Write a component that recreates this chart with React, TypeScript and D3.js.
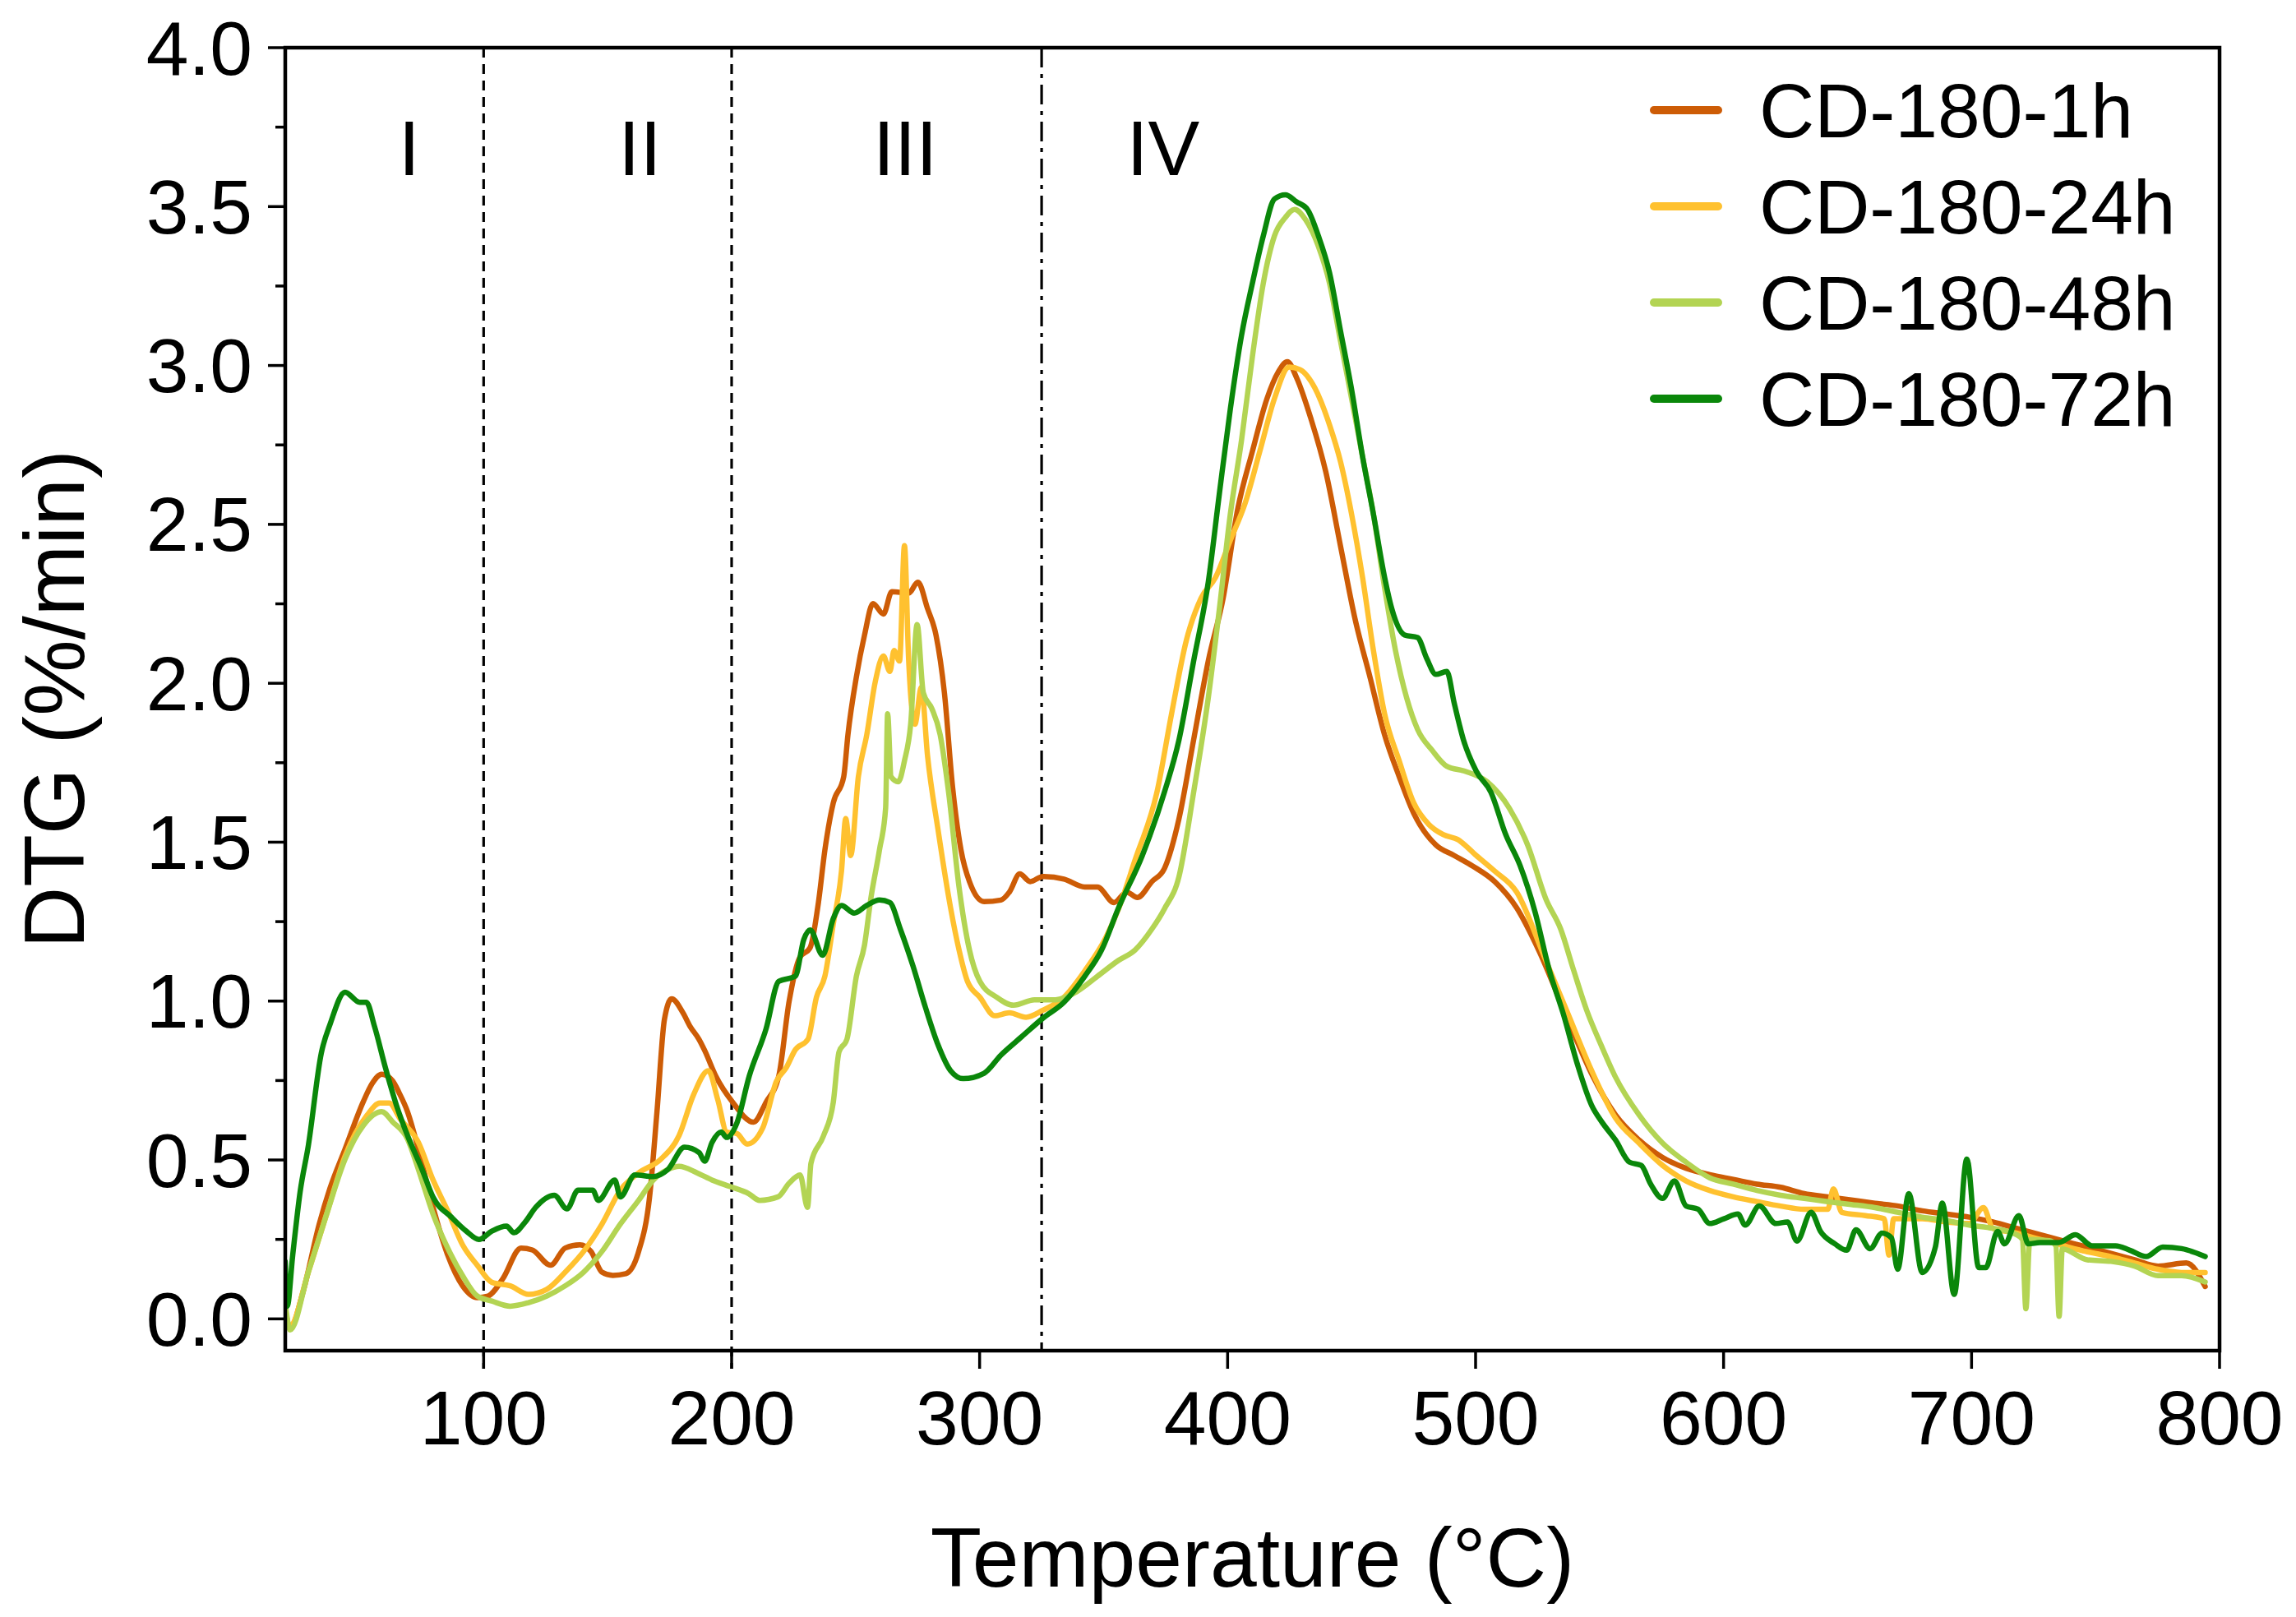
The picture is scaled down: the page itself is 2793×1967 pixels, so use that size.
import * as d3 from "d3";

// DTG curves, [temperature °C, DTG %/min]
const cd1h: [number, number][] = [
  [20, 0.03], [22, -0.03], [27, 0.08], [33.7, 0.298], [38, 0.41], [44.1, 0.534], [51.5, 0.684], [55, 0.74],
  [58.9, 0.77], [63.3, 0.749], [66, 0.71], [69.3, 0.652], [73.7, 0.534], [79.6, 0.351], [85.5, 0.201],
  [91.5, 0.104], [97.4, 0.067], [101.8, 0.072], [107.7, 0.126], [115.1, 0.223], [119.6, 0.217], [127, 0.169],
  [132.9, 0.223], [138.8, 0.233], [143.3, 0.212], [147.7, 0.147], [152.1, 0.137], [157.3, 0.142], [162.5, 0.212],
  [166.9, 0.383], [169.9, 0.652], [172.9, 0.942], [175.8, 1.007], [180.3, 0.964], [183.2, 0.921], [186.8, 0.88],
  [189.1, 0.845], [193.6, 0.764], [200.4, 0.682], [208.8, 0.619], [213.9, 0.682], [219, 0.764], [223.2, 1.0],
  [227.4, 1.136], [231.7, 1.169], [235, 1.31], [237.6, 1.475], [241, 1.624], [245.2, 1.706], [246.9, 1.838],
  [250.3, 2.02], [253.6, 2.152], [257, 2.251], [261.2, 2.218], [264.6, 2.288], [271.4, 2.284], [275.1, 2.318],
  [279, 2.235], [282.4, 2.152], [285.8, 1.97], [289.1, 1.673], [292.5, 1.475], [295.9, 1.376], [301.8, 1.313],
  [308.6, 1.318], [312, 1.343], [316.2, 1.4], [320.4, 1.376], [325.5, 1.392], [334, 1.384], [342.4, 1.359],
  [347.5, 1.359], [354.2, 1.31], [359.3, 1.343], [363.6, 1.326], [369.5, 1.376], [374.5, 1.417], [380.4, 1.574],
  [386.3, 1.822], [392.2, 2.07], [398.2, 2.268], [404.1, 2.549], [410, 2.73], [415.9, 2.896], [420.4, 2.979],
  [424.1, 3.012], [427.8, 2.962], [433.7, 2.83], [439.6, 2.665], [445.5, 2.433], [451.4, 2.202], [457.4, 2.02],
  [463.3, 1.838], [469.2, 1.706], [475.1, 1.59], [484, 1.491], [491.4, 1.458], [498.8, 1.425], [507.7, 1.376],
  [516.6, 1.293], [525.4, 1.161], [537.3, 0.94], [546.8, 0.771], [556.4, 0.642], [565.9, 0.563], [575.4, 0.508],
  [584.9, 0.474], [594.4, 0.454], [603.9, 0.439], [613.5, 0.424], [623, 0.414], [632.5, 0.394], [642, 0.384],
  [651.5, 0.374], [661, 0.364], [670.5, 0.355], [680.1, 0.34], [689.6, 0.33], [699.1, 0.32], [708.6, 0.305],
  [718.1, 0.285], [727.6, 0.265], [737.1, 0.245], [746.7, 0.226], [756.2, 0.206], [765.7, 0.186], [775.2, 0.166],
  [786.6, 0.176], [794.2, 0.102],
];

const cd24h: [number, number][] = [
  [20, 0.0], [22, -0.02], [29.3, 0.147], [36.7, 0.33], [44.1, 0.512], [53, 0.641], [58.2, 0.679], [61.9, 0.679],
  [66.3, 0.63], [73.7, 0.555], [79.6, 0.437], [85.5, 0.34], [91.5, 0.233], [97.4, 0.169], [103.3, 0.115],
  [110.7, 0.104], [118.1, 0.077], [125.5, 0.093], [132.9, 0.147], [140.3, 0.212], [147.7, 0.298], [155.1, 0.405],
  [162.5, 0.459], [171.4, 0.502], [178.8, 0.577], [184.7, 0.706], [190.6, 0.781], [194.4, 0.69], [198, 0.588],
  [202.1, 0.583], [206.3, 0.55], [212.5, 0.6], [218.1, 0.748], [222, 0.79], [225.7, 0.847], [230.8, 0.88],
  [234.2, 1.012], [237.6, 1.078], [241, 1.243], [244.3, 1.409], [246, 1.574], [248, 1.458], [251.1, 1.706],
  [254.5, 1.838], [257.9, 2.004], [261.2, 2.086], [263.8, 2.037], [265.5, 2.103], [267.7, 2.07], [269.7, 2.433],
  [271.4, 2.07], [273.9, 1.871], [276.5, 1.987], [279, 1.772], [283.2, 1.541], [288.3, 1.293], [291.7, 1.161],
  [295.1, 1.062], [300.1, 1.012], [306.1, 0.954], [312, 0.963], [318.7, 0.949], [325.5, 0.971], [334, 1.012],
  [342.4, 1.095], [350.9, 1.2], [356, 1.29], [362.6, 1.442], [371.5, 1.657], [377.4, 1.904], [383.4, 2.136],
  [389.3, 2.268], [395.2, 2.334], [401.1, 2.45], [407, 2.565], [413, 2.73], [418.9, 2.896], [424.8, 2.995],
  [429.2, 2.987], [435.2, 2.929], [441.1, 2.813], [445.5, 2.698], [450, 2.532], [454.4, 2.334], [458.8, 2.103],
  [463.3, 1.904], [469.2, 1.756], [475.1, 1.623], [481, 1.557], [486.9, 1.524], [492.9, 1.508], [500.3, 1.458],
  [507.7, 1.409], [516.6, 1.343], [527.8, 1.138], [537.3, 0.959], [546.8, 0.781], [556.4, 0.632], [565.9, 0.553],
  [575.4, 0.483], [584.9, 0.434], [594.4, 0.404], [603.9, 0.384], [613.5, 0.369], [623, 0.355], [632.5, 0.345],
  [642, 0.345], [644.3, 0.409], [647.7, 0.335], [657.2, 0.325], [664.8, 0.315], [666.7, 0.201], [668.6, 0.315],
  [680.1, 0.315], [689.6, 0.305], [699.1, 0.3], [704.8, 0.35], [708.6, 0.285], [718.1, 0.27], [727.6, 0.25],
  [737.1, 0.23], [746.7, 0.211], [756.2, 0.196], [765.7, 0.176], [775.2, 0.156], [784.7, 0.146], [794.2, 0.146],
];

const cd48h: [number, number][] = [
  [20, 0.05], [22, -0.035], [29.3, 0.147], [36.7, 0.33], [44.1, 0.502], [51.5, 0.609], [58.9, 0.652],
  [63.3, 0.62], [69.3, 0.566], [73.7, 0.47], [79.6, 0.33], [85.5, 0.223], [91.5, 0.136], [97.4, 0.072],
  [103.3, 0.056], [110.7, 0.04], [118.1, 0.051], [125.5, 0.072], [132.9, 0.104], [140.3, 0.147], [147.7, 0.212],
  [155.1, 0.298], [162.5, 0.373], [168.4, 0.437], [174.3, 0.47], [178.8, 0.48], [186.2, 0.459], [192.1, 0.437],
  [199.5, 0.416], [206.9, 0.394], [211.3, 0.373], [218.7, 0.384], [223.2, 0.427], [227.6, 0.453], [230.6, 0.351],
  [232, 0.49], [237, 0.575], [241, 0.682], [243.3, 0.84], [246.5, 0.88], [250.3, 1.078], [253.6, 1.177],
  [256.2, 1.326], [259.6, 1.475], [262.1, 1.607], [262.9, 1.904], [264.3, 1.706], [267.2, 1.69], [269.7, 1.756],
  [272.2, 1.871], [274.8, 2.185], [277.3, 1.97], [280.7, 1.921], [284.1, 1.838], [287.5, 1.657], [291.7, 1.359],
  [295.9, 1.161], [300.1, 1.062], [306.9, 1.012], [313.7, 0.987], [322.1, 1.004], [330.6, 1.004], [339, 1.029],
  [347.5, 1.078], [356, 1.128], [362.7, 1.161], [369.5, 1.227], [374.5, 1.29], [380.4, 1.392], [386.3, 1.657],
  [392.2, 1.954], [396.7, 2.235], [401.1, 2.532], [405.6, 2.764], [410, 3.028], [414.4, 3.259], [418.9, 3.408],
  [423.3, 3.466], [427, 3.491], [431.5, 3.458], [436.6, 3.375], [441.1, 3.259], [445.5, 3.078], [450, 2.896],
  [454.4, 2.714], [458.8, 2.532], [463.3, 2.301], [467.7, 2.103], [472.2, 1.954], [476.6, 1.855], [482.5, 1.789],
  [488.4, 1.739], [495.8, 1.723], [504.7, 1.69], [513.6, 1.607], [521, 1.491], [528.4, 1.32], [534.3, 1.227],
  [539.5, 1.098], [544.9, 0.969], [550.7, 0.86], [556.4, 0.761], [565.9, 0.642], [575.4, 0.553], [584.9, 0.493],
  [594.4, 0.444], [603.9, 0.424], [613.5, 0.404], [623, 0.389], [632.5, 0.379], [642, 0.369], [651.5, 0.36],
  [661, 0.35], [670.5, 0.335], [680.1, 0.32], [689.6, 0.31], [699.1, 0.295], [708.6, 0.285], [718.1, 0.265],
  [720.5, 0.25], [721.9, 0.032], [723.5, 0.25], [731.4, 0.246], [734, 0.23], [735.3, 0.008], [736.6, 0.22],
  [746.7, 0.186], [756.2, 0.181], [765.7, 0.166], [775.2, 0.136], [784.7, 0.136], [794.2, 0.116],
];

const cd72h: [number, number][] = [
  [20, 0.18], [20.8, 0.04], [23, 0.2], [26, 0.4], [29.3, 0.545], [34.5, 0.835], [38.2, 0.93], [44.1, 1.028],
  [50, 0.996], [52.7, 0.996], [56, 0.92], [60.4, 0.79], [64.8, 0.673], [69.3, 0.577], [75.2, 0.47], [79.6, 0.383],
  [87, 0.32], [93, 0.276], [98.1, 0.25], [103.3, 0.276], [109.2, 0.292], [112.2, 0.271], [116.6, 0.303],
  [121, 0.351], [128.5, 0.389], [133.6, 0.346], [138.1, 0.405], [144, 0.405], [146.2, 0.373], [152.9, 0.437],
  [155.1, 0.384], [161, 0.453], [168.4, 0.448], [174.3, 0.47], [181, 0.54], [186.9, 0.523], [189.1, 0.496],
  [192.1, 0.555], [195.8, 0.588], [198, 0.571], [202.1, 0.616], [207.1, 0.764], [213.9, 0.913], [219, 1.062],
  [225.7, 1.078], [229.1, 1.194], [231.7, 1.224], [236.7, 1.144], [241, 1.26], [244.3, 1.301], [249.4, 1.277],
  [254.5, 1.301], [259.6, 1.318], [263.8, 1.31], [268, 1.227], [273.1, 1.111], [278.2, 0.979], [283.2, 0.863],
  [288.3, 0.781], [293.4, 0.756], [301.8, 0.773], [308.6, 0.83], [317, 0.888], [325.5, 0.946], [334, 0.996],
  [342.4, 1.078], [349.2, 1.161], [356, 1.293], [365.6, 1.458], [374.5, 1.657], [380.4, 1.822], [386.3, 2.07],
  [392.2, 2.318], [396.7, 2.598], [401.1, 2.863], [405.6, 3.094], [410, 3.259], [414.4, 3.408], [418.9, 3.524],
  [423.3, 3.537], [427.8, 3.515], [432.2, 3.491], [436.6, 3.408], [441.1, 3.292], [445.5, 3.11], [449.9, 2.929],
  [454.4, 2.714], [458.8, 2.532], [463.3, 2.334], [466.2, 2.235], [471.4, 2.152], [476.6, 2.144], [480.3, 2.078],
  [484, 2.028], [488.4, 2.037], [491.4, 1.937], [495.1, 1.822], [500.3, 1.723], [506.2, 1.657], [512.1, 1.525],
  [518, 1.425], [524, 1.28], [529.7, 1.098], [535.4, 0.959], [541.1, 0.8], [546.8, 0.672], [550.7, 0.622],
  [556.4, 0.563], [562.1, 0.493], [566.8, 0.483], [570.6, 0.424], [575.4, 0.379], [580.2, 0.434], [584.9, 0.355],
  [589.7, 0.345], [594.4, 0.3], [600.1, 0.315], [605.8, 0.33], [608.7, 0.295], [614.4, 0.355], [621.1, 0.3],
  [625.8, 0.305], [629.6, 0.245], [635.3, 0.335], [639.1, 0.275], [644.9, 0.236], [649.6, 0.216], [653.4, 0.28],
  [659.1, 0.221], [663.9, 0.27], [667.7, 0.255], [670.2, 0.156], [674.7, 0.394], [680.1, 0.146], [685.4, 0.226],
  [688.2, 0.364], [693, 0.077], [698.1, 0.503], [702.9, 0.161], [705.7, 0.161], [710.5, 0.275], [713.3, 0.236],
  [719.1, 0.325], [722.9, 0.236], [727.6, 0.24], [735.2, 0.24], [741.9, 0.265], [748.6, 0.23], [758.1, 0.23],
  [763.8, 0.216], [770.4, 0.196], [777.1, 0.226], [784.7, 0.221], [794.2, 0.196],
];

const seriesNames = ["CD-180-1h", "CD-180-24h", "CD-180-48h", "CD-180-72h"];
const seriesData = [cd1h, cd24h, cd48h, cd72h];
const seriesColors = ["#CD5C06", "#FFC12F", "#B3D453", "#0A870A"];

const xTickValues = [100, 200, 300, 400, 500, 600, 700, 800];
const yTickValues = [0, 0.5, 1, 1.5, 2, 2.5, 3, 3.5, 4];
const yMinorValues = [0.25, 0.75, 1.25, 1.75, 2.25, 2.75, 3.25, 3.75];

const dividerTemps = [100, 200, 325];
const regionNames = ["I", "II", "III", "IV"];
const regionCenters = [70, 163, 270, 374];

const W = 2793;
const H = 1967;
const plot = { left: 347, right: 2700, top: 58, bottom: 1643 };
const FONT = "'Liberation Sans', Arial, sans-serif";

export default function App() {
  const x = d3.scaleLinear().domain([20, 800]).range([plot.left, plot.right]);
  const y = d3.scaleLinear().domain([-0.1, 4.0]).range([plot.bottom, plot.top]);

  const line = d3
    .line<[number, number]>()
    .x((d) => x(d[0]))
    .y((d) => y(d[1]))
    .curve(d3.curveMonotoneX);

  const cx = (plot.left + plot.right) / 2;
  const cy = (plot.top + plot.bottom) / 2;

  return (
    <svg
      width={W}
      height={H}
      viewBox={`0 0 ${W} ${H}`}
      style={{ position: "absolute", left: 0, top: 0, display: "block", background: "#fff" }}
      fontFamily={FONT}
    >
      <defs>
        <clipPath id="plot-clip">
          <rect x={plot.left} y={plot.top} width={plot.right - plot.left} height={plot.bottom - plot.top} />
        </clipPath>
      </defs>

      {/* region dividers */}
      {dividerTemps.map((t, i) => (
        <line
          key={`div-${t}`}
          x1={x(t)}
          x2={x(t)}
          y1={plot.top}
          y2={plot.bottom + (i < 2 ? 22 : 0)}
          stroke="#000"
          strokeWidth={3.2}
          strokeDasharray={i < 2 ? "12,8" : "24,8,5,8"}
        />
      ))}

      {/* region labels */}
      {regionNames.map((n, i) => (
        <text key={n} x={x(regionCenters[i])} y={y(3.6)} fontSize={94} textAnchor="middle" fill="#000">
          {n}
        </text>
      ))}

      {/* curves */}
      <g clipPath="url(#plot-clip)">
        {seriesData.map((d, i) => (
          <path
            key={seriesNames[i]}
            d={line(d) ?? ""}
            fill="none"
            stroke={seriesColors[i]}
            strokeWidth={6.5}
            strokeLinejoin="round"
            strokeLinecap="round"
          />
        ))}
      </g>

      {/* frame */}
      <rect
        x={plot.left}
        y={plot.top}
        width={plot.right - plot.left}
        height={plot.bottom - plot.top}
        fill="none"
        stroke="#000"
        strokeWidth={4.5}
      />

      {/* y axis */}
      {yTickValues.map((v) => (
        <g key={`y-${v}`}>
          <line x1={plot.left - 21} x2={plot.left} y1={y(v)} y2={y(v)} stroke="#000" strokeWidth={3.5} />
          <text x={plot.left - 40} y={y(v)} dy="0.35em" fontSize={93} textAnchor="end" fill="#000">
            {v.toFixed(1)}
          </text>
        </g>
      ))}
      {yMinorValues.map((v) => (
        <line key={`ym-${v}`} x1={plot.left - 12} x2={plot.left} y1={y(v)} y2={y(v)} stroke="#000" strokeWidth={3.5} />
      ))}

      {/* x axis */}
      {xTickValues.map((t) => (
        <g key={`x-${t}`}>
          <line x1={x(t)} x2={x(t)} y1={plot.bottom} y2={plot.bottom + 22} stroke="#000" strokeWidth={3.5} />
          <text x={x(t)} y={1757} fontSize={93} textAnchor="middle" fill="#000">
            {t}
          </text>
        </g>
      ))}

      {/* axis titles */}
      <text x={cx} y={1930} fontSize={102} textAnchor="middle" fill="#000">
        Temperature (°C)
      </text>
      <text
        transform={`translate(102,${cy}) rotate(-90)`}
        fontSize={104}
        textAnchor="middle"
        fill="#000"
      >
        DTG (%/min)
      </text>

      {/* legend */}
      {seriesNames.map((n, i) => {
        const ly = 134 + i * 117;
        return (
          <g key={`lg-${n}`}>
            <line x1={2012} x2={2090} y1={ly} y2={ly} stroke={seriesColors[i]} strokeWidth={10} strokeLinecap="round" />
            <text x={2140} y={ly} dy="0.35em" fontSize={93} fill="#000">
              {n}
            </text>
          </g>
        );
      })}
    </svg>
  );
}
